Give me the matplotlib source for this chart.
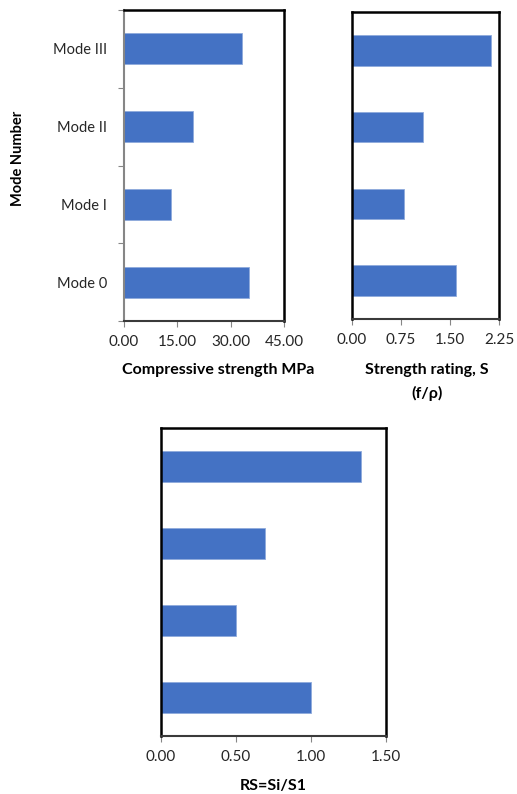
import matplotlib
matplotlib.use('Agg')
import matplotlib.pyplot as plt
import numpy as np

plt.rcParams['font.family'] = ['Lato', 'DejaVu Sans']

modes = ['Mode 0', 'Mode I', 'Mode II', 'Mode III']
compressive = [35.1, 13.3, 19.5, 33.1]
strength_rating = [1.59, 0.80, 1.09, 2.12]
rs_ratio = [1.00, 0.50, 0.69, 1.33]

W, H = 517, 794
fig = plt.figure(figsize=(W / 100, H / 100), dpi=100)


def px_axes(x0, y0, x1, y1):
    return fig.add_axes([x0 / W, 1 - y1 / H, (x1 - x0) / W, (y1 - y0) / H])


bar_color = '#4472C4'
edge_color = '#8faadc'
gray = '#868686'
txt = '#262626'


def setup(ax, values, xmax, xticks, fmt, show_ylabels, left_gray):
    y = np.arange(len(values))
    ax.barh(y, values, height=0.4, color=bar_color, edgecolor=edge_color, linewidth=0.6)
    ax.set_xlim(0, xmax)
    ax.set_ylim(-0.5, len(values) - 0.5)
    ax.set_xticks(xticks)
    ax.set_xticklabels([fmt.format(v) for v in xticks])
    ax.tick_params(axis='x', length=4, width=0.8, color=gray, pad=6, labelsize=11, labelcolor=txt)
    for s in ['top', 'right']:
        ax.spines[s].set_color('black')
        ax.spines[s].set_linewidth(1.8)
    if left_gray:
        ax.spines['left'].set_color(gray)
        ax.spines['left'].set_linewidth(1.5)
    else:
        ax.spines['left'].set_color('black')
        ax.spines['left'].set_linewidth(1.8)
    ax.spines['bottom'].set_color('#3a3a3a')
    ax.spines['bottom'].set_linewidth(1.5)
    if show_ylabels:
        ax.set_yticks(np.arange(-0.5, len(values), 1.0), minor=False)
        ax.set_yticklabels([])
        ax.set_yticks(y, minor=True)
        ax.set_yticklabels(modes, minor=True)
        ax.tick_params(axis='y', which='major', length=4, width=0.8, color=gray)
        ax.tick_params(axis='y', which='minor', length=0, pad=12, labelsize=10.5, labelcolor=txt)
    else:
        ax.set_yticks([])


ax1 = px_axes(124, 10, 284, 321)
setup(ax1, compressive, 45, [0, 15, 30, 45], '{:.2f}', True, True)

ax2 = px_axes(352, 12, 499, 319)
setup(ax2, strength_rating, 2.25, [0, 0.75, 1.5, 2.25], '{:.2f}', False, False)

ax3 = px_axes(161, 428, 386, 736)
setup(ax3, rs_ratio, 1.5, [0, 0.5, 1.0, 1.5], '{:.2f}', False, False)

fig.text(18 / W, 1 - 158 / H, 'Mode Number', rotation=90, ha='center', va='center',
         fontsize=10.5, fontweight='bold', color='black')
fig.text(218 / W, 1 - 370 / H, 'Compressive strength MPa', ha='center', va='center',
         fontsize=11.5, fontweight='bold', color='black')
fig.text(427 / W, 1 - 370 / H, 'Strength rating, S', ha='center', va='center',
         fontsize=11.5, fontweight='bold', color='black')
fig.text(427 / W, 1 - 393 / H, '(f/ρ)', ha='center', va='center',
         fontsize=11.5, fontweight='bold', color='black')
fig.text(273 / W, 1 - 786 / H, 'RS=Si/S1', ha='center', va='center',
         fontsize=11.5, fontweight='bold', color='black')

fig.savefig('out.png', dpi=100)
